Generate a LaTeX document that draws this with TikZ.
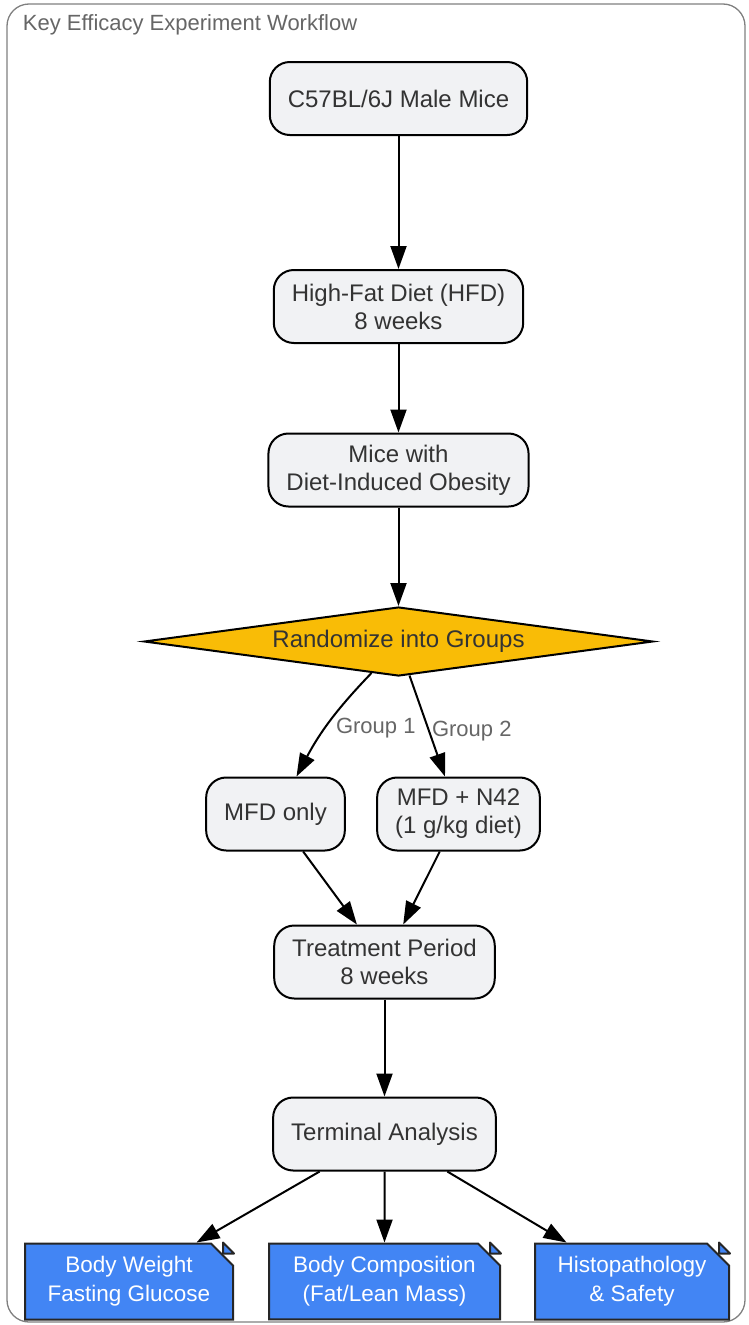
\documentclass[tikz,border=0pt]{standalone}
\usepackage{fontspec}
\setmainfont{Liberation Sans}
\usetikzlibrary{positioning, arrows.meta, shapes.geometric, shapes.misc}
\definecolor{boxfill}{HTML}{F1F2F4}
\definecolor{txtgray}{HTML}{333333}
\definecolor{lblgray}{HTML}{666666}
\definecolor{framegray}{HTML}{808080}
\definecolor{decide}{HTML}{F9BC06}
\definecolor{outblue}{HTML}{4285F4}
\tikzset{->,>={Triangle[length=23pt,width=16pt]},node distance=170pt,
  box/.style={rectangle, rounded corners=20pt, draw=black, fill=boxfill, text=txtgray,
    minimum height=73pt, inner xsep=18pt, align=center, font=\fontsize{24}{28}\selectfont},
  choice/.style={diamond, aspect=7.2, draw=black, fill=decide, text=txtgray, inner sep=0pt,
    minimum width=509pt, minimum height=69pt, font=\fontsize{24}{28}\selectfont},
  outcome/.style={chamfered rectangle, chamfered rectangle corners=north east,
    chamfered rectangle xsep=11pt, chamfered rectangle ysep=11pt, draw=black!85,
    fill=outblue, text=white, inner sep=2pt, minimum height=73pt, align=center,
    font=\fontsize{22.5}{29}\selectfont},
  lbl/.style={text=lblgray, inner sep=2pt, font=\fontsize{22}{26}\selectfont}}

\begin{document}
\begin{tikzpicture}[x=1pt,y=-1pt,line width=2pt]
\useasboundingbox (0,0) rectangle (748,1325);
\draw[-, framegray, line width=1.3pt, rounded corners=22pt] (7,4) rectangle (745,1322);
\node[lbl, anchor=west, inner sep=0pt] (title) at (22,25) {Key Efficacy Experiment Workflow};

\node[box] (mice) at (398.5,98.5) {C57BL/6J Male Mice};
\node[box, below of=mice, node distance=208pt] (hfd) {High-Fat Diet (HFD)\\8 weeks};
\node[box, below of=hfd, node distance=163.5pt] (dio) {Mice with\\Diet-Induced Obesity};
\node[choice, below of=dio, node distance=171.5pt] (rand) {Randomize into Groups};
\node[box, below of=rand, node distance=172.5pt, xshift=-123pt] (mfd) {MFD only};
\node[box, below of=rand, node distance=172.5pt, xshift=60pt] (nff) {MFD + N42\\(1 g/kg diet)};
\node[box, below of=rand, node distance=320.5pt, xshift=-14pt] (treat) {Treatment Period\\8 weeks};
\node[box, below of=treat, node distance=172pt] (term) {Terminal Analysis};
\node[outcome, below of=term, node distance=147.5pt, xshift=-255.5pt, minimum width=208pt] (bw) {Body Weight\\Fasting Glucose};
\node[outcome, below of=term, node distance=147.5pt, minimum width=231pt] (comp) {Body Composition\\(Fat/Lean Mass)};
\node[outcome, below of=term, node distance=147.5pt, xshift=247.5pt, minimum width=194pt] (histo) {Histopathology\\\& Safety};

% folded corners of the outcome notes
\foreach \n in {bw,comp,histo}{
  \coordinate (c) at (\n.north -| \n.east);
  \filldraw[-, draw=black!85, fill=outblue, line join=round] ([xshift=-11pt]c) |- ([yshift=-11pt]c) -- cycle;
}

\draw (mice) -- (hfd);
\draw (hfd) -- (dio);
\draw (dio) -- (rand);
\draw ([xshift=-27pt,yshift=4pt]rand.south) to[bend right=8] node[lbl, pos=0.57, anchor=west, xshift=8pt]{Group 1} ([xshift=21pt]mfd.north);
\draw ([xshift=11pt,yshift=1.5pt]rand.south) -- node[lbl, pos=0.55, anchor=west, xshift=0pt]{Group 2} ([xshift=-13.5pt]nff.north);
\draw (mfd) -- (treat);
\draw (nff) -- (treat);
\draw (treat) -- (term);
\foreach \n in {bw,comp,histo}
  \draw (term) -- (\n);
\end{tikzpicture}
\end{document}
